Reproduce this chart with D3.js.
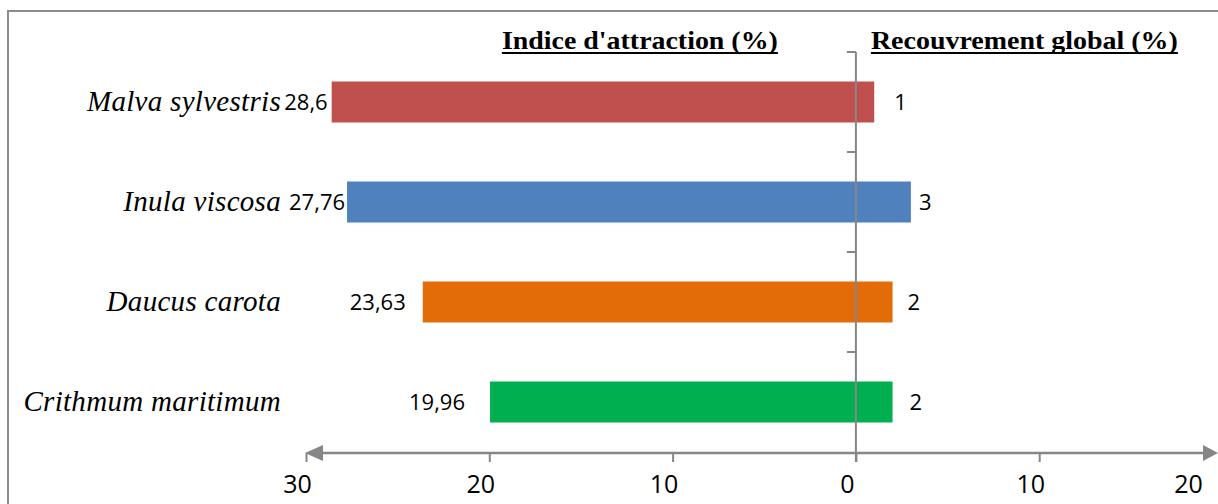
<!DOCTYPE html>
<html>
<head>
<meta charset="utf-8">
<script src="https://cdn.jsdelivr.net/npm/d3@7"></script>
<style>
  html, body { margin: 0; padding: 0; background: #fff; }
  svg { display: block; }
</style>
</head>
<body>
<div id="chart"></div>
<script>
// data
const categories = ['Malva sylvestris', 'Inula viscosa', 'Daucus carota', 'Crithmum maritimum']
const attraction = [28.6, 27.76, 23.63, 19.96]
const recouvrement = [1, 3, 2, 2]
const xTicks = [-30, -20, -10, 0, 10, 20]
const colors = ['#c0504d', '#4f81bd', '#e36c09', '#00b050']

// label nudges (Excel placed these by hand, not evenly)
const leftGap = [4, 2, 17, 25]
const rightGap = [20, 8, 15, 17]

const W = 1218
const H = 504
const axisColor = '#868686'
const numFont = '"Open Sans", sans-serif'
const serif = '"Liberation Serif", "Times New Roman", serif'

const fr = d3.formatLocale({ decimal: ',', thousands: ' ', grouping: [3], currency: ['', ''] })
const fmt = v => fr.format(',')(v)

const svg = d3.select('#chart')
  .append('svg')
  .attr('width', W)
  .attr('height', H)

// chart frame
svg.append('rect')
  .attr('x', 8).attr('y', 11)
  .attr('width', W).attr('height', H)
  .attr('fill', 'none')
  .attr('stroke', '#8c8c8c')
  .attr('stroke-width', 2)

const x = d3.scaleLinear().domain([-30, 20]).range([306, 1222.5])
const y = d3.scaleBand().domain(categories).range([52, 452]).paddingInner(0.59).paddingOuter(0.295)

const rows = categories.map((c, i) => ({
  name: c, a: attraction[i], r: recouvrement[i], color: colors[i], i
}))

// bars: attraction goes left, recouvrement goes right
svg.append('g')
  .selectAll('rect')
  .data(rows)
  .join('rect')
  .attr('x', d => x(-d.a))
  .attr('y', d => y(d.name))
  .attr('width', d => x(d.r) - x(-d.a))
  .attr('height', y.bandwidth())
  .attr('fill', d => d.color)

// vertical axis at zero
const x0 = x(0)
const vAxis = svg.append('g')
vAxis.append('line')
  .attr('x1', x0).attr('x2', x0)
  .attr('y1', 52).attr('y2', 462)
  .attr('stroke', axisColor).attr('stroke-width', 2)
vAxis.selectAll('line.tk')
  .data(categories)
  .join('line')
  .attr('class', 'tk')
  .attr('x1', x0 - 9).attr('x2', x0)
  .attr('y1', d => y(d) - y.step() * y.paddingInner() / 2)
  .attr('y2', d => y(d) - y.step() * y.paddingInner() / 2)
  .attr('stroke', axisColor).attr('stroke-width', 2)

// bottom axis with arrows at both ends
const axisY = 453
const xAxis = svg.append('g')
  .attr('transform', `translate(0,${axisY})`)
  .call(d3.axisBottom(x).tickValues(xTicks).tickSize(9).tickPadding(8).tickFormat(d => Math.abs(d)))
xAxis.select('.domain').remove()
xAxis.selectAll('.tick line').attr('stroke', axisColor).attr('stroke-width', 2)
xAxis.selectAll('.tick text')
  .attr('font-family', numFont)
  .attr('font-size', 25)
  .attr('fill', '#000')
  .attr('dy', '0.92em')
  .attr('x', d => Math.min(x(d), 1197) - x(d) - 9)

const xLeft = x(-30)
const xRight = W
xAxis.append('line')
  .attr('x1', xLeft + 8).attr('x2', xRight - 8)
  .attr('y1', 0).attr('y2', 0)
  .attr('stroke', axisColor).attr('stroke-width', 2.5)
xAxis.append('path')
  .attr('d', `M${xLeft - 1},0 L${xLeft + 17},-8 L${xLeft + 17},8 Z`)
  .attr('fill', axisColor)
xAxis.append('path')
  .attr('d', `M${xRight},0 L${xRight - 15},-8 L${xRight - 15},8 Z`)
  .attr('fill', axisColor)

// category names
svg.append('g')
  .selectAll('text')
  .data(rows)
  .join('text')
  .attr('x', 281)
  .attr('y', d => y(d.name) + y.bandwidth() / 2 + 9)
  .attr('text-anchor', 'end')
  .attr('font-family', serif)
  .attr('font-style', 'italic')
  .attr('font-size', 29)
  .attr('letter-spacing', 0.3)
  .text(d => d.name)

// value labels
svg.append('g')
  .selectAll('text')
  .data(rows)
  .join('text')
  .attr('x', d => x(-d.a) - leftGap[d.i])
  .attr('y', d => y(d.name) + y.bandwidth() / 2 + 8)
  .attr('text-anchor', 'end')
  .attr('font-family', numFont)
  .attr('font-size', 22)
  .text(d => fmt(d.a))

svg.append('g')
  .selectAll('text')
  .data(rows)
  .join('text')
  .attr('x', d => x(d.r) + rightGap[d.i])
  .attr('y', d => y(d.name) + y.bandwidth() / 2 + 8)
  .attr('font-family', numFont)
  .attr('font-size', 22)
  .text(d => fmt(d.r))

// headers, bold and underlined
const heads = [
  { t: "Indice d'attraction (%)", x: x0 - 78, w: 276, anchor: 'end' },
  { t: 'Recouvrement global (%)', x: x0 + 15, w: 307, anchor: 'start' }
]
heads.forEach(h => {
  svg.append('text')
    .attr('x', h.x).attr('y', 49)
    .attr('text-anchor', h.anchor)
    .attr('font-family', serif)
    .attr('font-weight', 'bold')
    .attr('font-size', 26)
    .attr('textLength', h.w)
    .attr('lengthAdjust', 'spacingAndGlyphs')
    .text(h.t)
  const sx = h.anchor === 'end' ? h.x - h.w : h.x
  svg.append('line')
    .attr('x1', sx).attr('x2', sx + h.w)
    .attr('y1', 53).attr('y2', 53)
    .attr('stroke', '#000').attr('stroke-width', 2.2)
})
</script>
</body>
</html>
